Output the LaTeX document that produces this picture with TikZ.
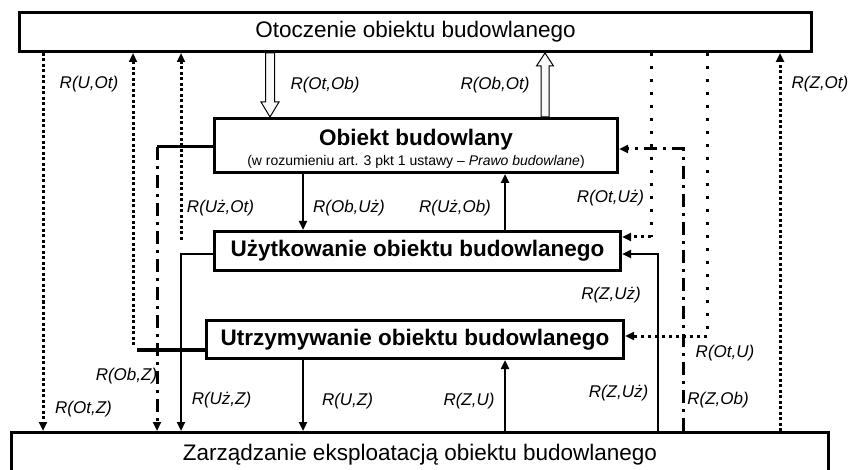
\documentclass[tikz,border=0pt]{standalone}
\usepackage{fontspec}
\setmainfont{Liberation Sans}
\usetikzlibrary{arrows.meta,calc}
\begin{document}
\begin{tikzpicture}[x=1pt,y=-1pt,
  box/.style={draw, line width=3pt, rectangle, inner sep=0pt, fill=white},
  bigtxt/.style={font=\fontsize{22.5}{27}\selectfont},
  boldtxt/.style={font=\fontsize{22.5}{27}\selectfont\bfseries},
  subtxt/.style={font=\fontsize{14}{16}\selectfont, inner sep=0pt},
  lab/.style={font=\fontsize{17}{20}\selectfont\itshape, inner sep=0pt},
  tip/.style={-{Triangle[length=9pt,width=8pt]}},
  solidarrow/.style={line width=2.5pt, tip},
  solidline/.style={line width=3pt},
  densedot/.style={line width=3pt, dash pattern=on 3pt off 2.5pt, tip},
  sparsedot/.style={line width=3pt, dash pattern=on 3pt off 10pt},
  halfdot/.style={line width=3pt, dash pattern=on 3pt off 4pt, tip},
  dashdot/.style={line width=3pt, dash pattern=on 13pt off 6pt on 3pt off 6pt, tip},
  hollow/.style={draw, line width=1pt, fill=gray!5, line join=miter},
]
\useasboundingbox (0,0) rectangle (851,470);

% boxes
\node[box, bigtxt, minimum width=792pt, minimum height=39pt] (ot) at (415.5,32) {Otoczenie obiektu budowlanego};
\node[box, bigtxt, minimum width=817pt, minimum height=45pt] (z) at (420,455) {Zarządzanie eksploatacją obiektu budowlanego};
\node[box, minimum width=403pt, minimum height=54pt] (ob) at (416,145.5) {};
\node[boldtxt, inner sep=0pt] (obt) at (416,140) {Obiekt budowlany};
\node[subtxt] (obs) at (416,162) {(w rozumieniu art. 3 pkt 1 ustawy – \textit{Prawo budowlane})};
\node[box, boldtxt, minimum width=406pt, minimum height=39pt] (uz) at (417.5,251) {Użytkowanie obiektu budowlanego};
\node[box, boldtxt, minimum width=417pt, minimum height=38pt] (ut) at (415,339.5) {Utrzymywanie obiektu budowlanego};

% x positions
\coordinate (xa) at (43,0);
\coordinate (xb) at (133,0);
\coordinate (xb2) at (137,0);
\coordinate (xc) at (157,0);
\coordinate (xd) at (181,0);
\coordinate (xe) at (303,0);
\coordinate (xf) at (505,0);
\coordinate (xg) at (651,0);
\coordinate (xh) at (658,0);
\coordinate (xi) at (683,0);
\coordinate (xj) at (707,0);
\coordinate (xk) at (780,0);
\coordinate (xl) at (270,0);
\coordinate (xm) at (545,0);
% y positions
\coordinate (ya) at (0,147);
\coordinate (yb) at (0,149);
\coordinate (yc) at (0,237);
\coordinate (yd) at (0,254);
\coordinate (ye) at (0,336);
\coordinate (yf) at (0,350);
\coordinate (yg) at (0,240);
\coordinate (yh) at (0,345);

% Ob <-> Uz
\draw[solidarrow] (ob.south -| xe) -- (uz.north -| xe);
\draw[solidarrow] (uz.north -| xf) -- (ob.south -| xf);
% Ut <-> Z
\draw[solidarrow] (ut.south -| xe) -- (z.north -| xe);
\draw[solidarrow] (z.north -| xf) -- (ut.south -| xf);
% Uz -> Z
\draw[solidarrow] (uz.west |- yd) -| (z.north -| xd);
% Z -> Uz
\draw[solidarrow] (z.north -| xh) |- (uz.east |- yd);
% Uz -> Ot
\draw[densedot] (xd |- yg) -- (ot.south -| xd);
% U -> Ot
\draw[line width=3.5pt] (ut.west |- yf) -- (yf -| xb2);
\draw[densedot] (xb |- yh) -- (ot.south -| xb);
% Ot -> Z
\draw[densedot] (ot.south -| xa) -- (z.north -| xa);
% Z -> Ot
\draw[densedot] (z.north -| xk) -- (ot.south -| xk);
% Ob -> Z
\draw[solidline] (ob.west |- ya) -- (ya -| xc);
\draw[dashdot] (ya -| xc) -- (z.north -| xc);
% Z -> Ob
\draw[dashdot] (z.north -| xi) |- (ob.east |- yb);
% Ot -> Uz
\draw[sparsedot] (ot.south -| xg) -- (xg |- yc);
\draw[halfdot] (xg |- yc) -- (uz.east |- yc);
% Ot -> U
\draw[sparsedot] (ot.south -| xj) -- (xj |- ye);
\draw[halfdot] (xj |- ye) -- (ut.east |- ye);

% hollow arrows
\draw[hollow] let \p1=(ot.south -| xl), \p2=(ob.north -| xl) in
  (\x1-4.5pt,\y1) -- (\x1+4.5pt,\y1) -- (\x1+4.5pt,\y2+15pt) -- (\x1+9pt,\y2+15pt)
  -- (\x2,\y2) -- (\x1-9pt,\y2+15pt) -- (\x1-4.5pt,\y2+15pt) -- cycle;
\draw[hollow] let \p1=(ob.north -| xm), \p2=(ot.south -| xm) in
  (\x1-4pt,\y1) -- (\x1-4pt,\y2-13pt) -- (\x1-8.5pt,\y2-13pt) -- (\x2,\y2)
  -- (\x1+8.5pt,\y2-13pt) -- (\x1+4pt,\y2-13pt) -- (\x1+4pt,\y1) -- cycle;

% labels
\node[lab] (l1) at (89,84) {R(U,Ot)};
\node[lab] (l2) at (325,85) {R(Ot,Ob)};
\node[lab] (l3) at (495,85) {R(Ob,Ot)};
\node[lab] (l4) at (820,84) {R(Z,Ot)};
\node[lab] (l5) at (220.5,208) {R(Uż,Ot)};
\node[lab] (l6) at (349,208) {R(Ob,Uż)};
\node[lab] (l7) at (455,208) {R(Uż,Ob)};
\node[lab] (l8) at (610.5,198) {R(Ot,Uż)};
\node[lab] (l9) at (611,295) {R(Z,Uż)};
\node[lab] (l10) at (725,353) {R(Ot,U)};
\node[lab] (l11) at (126.5,376) {R(Ob,Z)};
\node[lab] (l12) at (83.5,409) {R(Ot,Z)};
\node[lab] (l13) at (221.5,400) {R(Uż,Z)};
\node[lab] (l14) at (347.5,401) {R(U,Z)};
\node[lab] (l15) at (469,401) {R(Z,U)};
\node[lab] (l16) at (618.5,393) {R(Z,Uż)};
\node[lab] (l17) at (718,400) {R(Z,Ob)};
\end{tikzpicture}
\end{document}
